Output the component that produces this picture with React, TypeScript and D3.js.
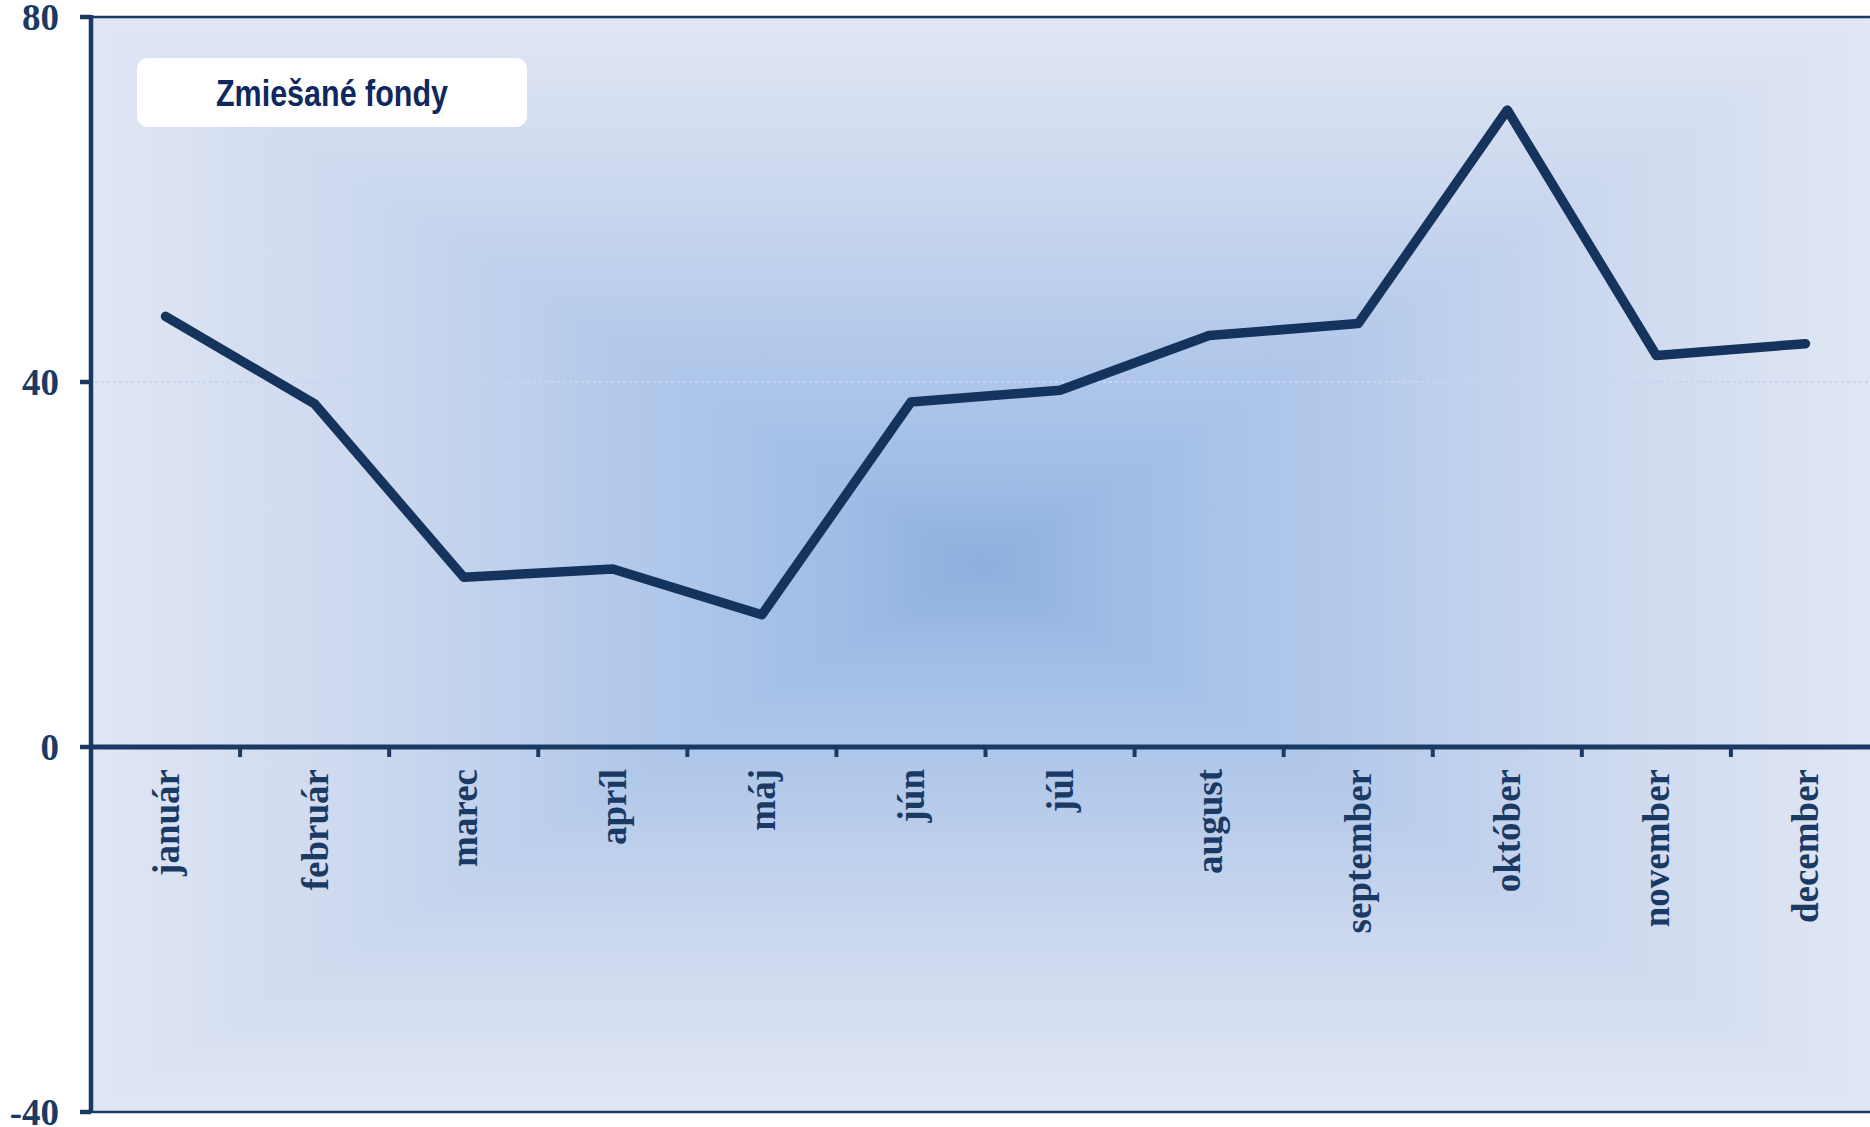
import React from "react";
import * as d3 from "d3";

const months = ["január", "február", "marec", "apríl", "máj", "jún", "júl", "august", "september", "október", "november", "december"];
const values = [47.2, 37.6, 18.6, 19.5, 14.5, 37.8, 39.1, 45.1, 46.4, 69.8, 42.9, 44.2];
const yTicks = [80, 40, 0, -40];
const gridValues = [40];
const title = "Zmiešané fondy";

const W = 1870;
const H = 1127;
const left = 91;
const top = 17;
const bottom = 1112;
const right = 1870;
const navy = "#1a3a64";
const lineColor = "#15345d";

const stops: [number, string][] = [
  [0, "#e0e6f4"],
  [0.3, "#cdd9ef"],
  [0.62, "#b1c8ea"],
  [0.84, "#a0bde6"],
  [1, "#8cafdd"],
];

export default function App() {
  const x = d3.scaleBand<string>().domain(months).range([left, 1880]).padding(0);
  const y = d3.scaleLinear().domain([-40, 80]).range([bottom, top]);
  const bw = x.bandwidth();
  const cxm = (m: string) => (x(m) as number) + bw / 2;
  const line = d3
    .line<number>()
    .x((_, i) => cxm(months[i]))
    .y((d) => y(d));

  const cx = (left + right) / 2;
  const cy = (top + bottom) / 2;
  // four triangles forming a rectangular path gradient
  const tris = [
    { id: "gTop", pts: `${left},${top} ${right},${top} ${cx},${cy}`, x1: cx, y1: top, x2: cx, y2: cy },
    { id: "gBot", pts: `${left},${bottom} ${right},${bottom} ${cx},${cy}`, x1: cx, y1: bottom, x2: cx, y2: cy },
    { id: "gLeft", pts: `${left},${top} ${left},${bottom} ${cx},${cy}`, x1: left, y1: cy, x2: cx, y2: cy },
    { id: "gRight", pts: `${right},${top} ${right},${bottom} ${cx},${cy}`, x1: right, y1: cy, x2: cx, y2: cy },
  ];

  return (
    <svg
      width={W}
      height={H}
      viewBox={`0 0 ${W} ${H}`}
      style={{ position: "absolute", left: 0, top: 0, display: "block", background: "#ffffff" }}
    >
      <defs>
        {tris.map((t) => (
          <linearGradient key={t.id} id={t.id} gradientUnits="userSpaceOnUse" x1={t.x1} y1={t.y1} x2={t.x2} y2={t.y2}>
            {stops.map(([o, c]) => (
              <stop key={o} offset={o} stopColor={c} />
            ))}
          </linearGradient>
        ))}
      </defs>

      {/* plot background */}
      {tris.map((t) => (
        <polygon key={t.id} points={t.pts} fill={`url(#${t.id})`} stroke={`url(#${t.id})`} strokeWidth={0.8} />
      ))}

      {/* grid */}
      {gridValues.map((g) => (
        <line key={g} x1={left + 4} x2={right} y1={y(g)} y2={y(g)} stroke="#c6d6f0" strokeWidth={2} strokeDasharray="3,3" />
      ))}

      {/* title box */}
      <rect x={137} y={58} width={390} height={69} rx={11} ry={11} fill="#ffffff" />
      <text
        x={332}
        y={106}
        textAnchor="middle"
        fontFamily="'Liberation Sans', Arial, sans-serif"
        fontWeight="bold"
        fontSize={37}
        fill="#0f2860"
        textLength={232}
        lengthAdjust="spacingAndGlyphs"
      >
        {title}
      </text>

      {/* top & bottom border */}
      <line x1={left} x2={right} y1={top} y2={top} stroke={navy} strokeWidth={2.5} />
      <line x1={left} x2={right} y1={bottom} y2={bottom} stroke={navy} strokeWidth={2.5} />

      {/* y axis */}
      <line x1={left} x2={left} y1={top - 2} y2={bottom + 1} stroke={navy} strokeWidth={4.5} />
      {yTicks.map((t) => (
        <g key={t}>
          <line x1={80} x2={left} y1={y(t)} y2={y(t)} stroke={navy} strokeWidth={4.5} />
          <text
            x={59}
            y={y(t)}
            dy="0.35em"
            textAnchor="end"
            fontFamily="'Liberation Serif', 'Times New Roman', serif"
            fontWeight="bold"
            fontSize={37}
            fill={navy}
          >
            {t}
          </text>
        </g>
      ))}

      {/* x axis at 0 */}
      <line x1={left} x2={right} y1={y(0)} y2={y(0)} stroke={navy} strokeWidth={5} />
      {months.slice(1).map((m) => (
        <line key={m} x1={x(m) as number} x2={x(m) as number} y1={y(0)} y2={y(0) + 10} stroke={navy} strokeWidth={4} />
      ))}
      {months.map((m) => (
        <text
          key={m}
          transform={`translate(${cxm(m) + 13},${y(0) + 22}) rotate(-90)`}
          textAnchor="end"
          fontFamily="'Liberation Serif', 'Times New Roman', serif"
          fontWeight="bold"
          fontSize={37}
          fill={navy}
        >
          {m}
        </text>
      ))}

      {/* data line */}
      <path d={line(values) || ""} fill="none" stroke={lineColor} strokeWidth={9.5} strokeLinejoin="round" strokeLinecap="round" />
    </svg>
  );
}
